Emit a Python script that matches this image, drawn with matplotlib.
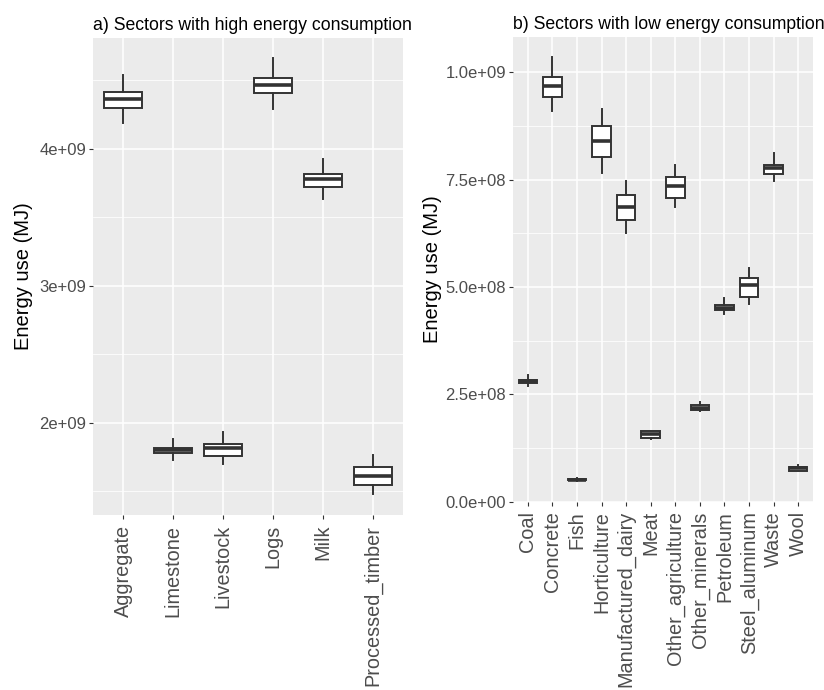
import matplotlib
matplotlib.use("Agg")
import matplotlib.pyplot as plt

plt.rcParams['font.family'] = ['Liberation Sans', 'DejaVu Sans']

# a) high energy sectors: box stats (MJ)
high_sectors = ["Aggregate", "Limestone", "Livestock", "Logs", "Milk", "Processed_timber"]
high_whislo = [4.190e9, 1.730e9, 1.701e9, 4.292e9, 3.635e9, 1.482e9]
high_q1 = [4.299e9, 1.781e9, 1.759e9, 4.409e9, 3.723e9, 1.547e9]
high_med = [4.365e9, 1.800e9, 1.818e9, 4.467e9, 3.781e9, 1.613e9]
high_q3 = [4.416e9, 1.818e9, 1.847e9, 4.518e9, 3.818e9, 1.679e9]
high_whishi = [4.540e9, 1.883e9, 1.934e9, 4.664e9, 3.927e9, 1.766e9]
high_ticks = [2e9, 3e9, 4e9]
high_ticklabels = ["2e+09", "3e+09", "4e+09"]
high_minor = [1.5e9, 2.5e9, 3.5e9, 4.5e9]

# b) low energy sectors
low_sectors = ["Coal", "Concrete", "Fish", "Horticulture", "Manufactured_dairy", "Meat",
               "Other_agriculture", "Other_minerals", "Petroleum", "Steel_aluminum",
               "Waste", "Wool"]
low_whislo = [2.68e8, 9.087e8, 4.70e7, 7.665e8, 6.267e8, 1.445e8, 6.87e8, 2.097e8, 4.38e8, 4.59e8, 7.456e8, 6.99e7]
low_q1 = [2.75e8, 9.415e8, 4.90e7, 8.015e8, 6.57e8, 1.468e8, 7.08e8, 2.14e8, 4.45e8, 4.776e8, 7.64e8, 7.22e7]
low_med = [2.796e8, 9.67e8, 5.05e7, 8.41e8, 6.85e8, 1.561e8, 7.36e8, 2.19e8, 4.497e8, 5.033e8, 7.76e8, 7.69e7]
low_q3 = [2.84e8, 9.90e8, 5.20e7, 8.76e8, 7.13e8, 1.631e8, 7.57e8, 2.237e8, 4.567e8, 5.196e8, 7.85e8, 8.15e7]
low_whishi = [2.936e8, 1.0345e9, 5.40e7, 9.156e8, 7.456e8, 1.654e8, 7.85e8, 2.307e8, 4.73e8, 5.43e8, 8.108e8, 8.62e7]
low_ticks = [0, 2.5e8, 5e8, 7.5e8, 1e9]
low_ticklabels = ["0.0e+00", "2.5e+08", "5.0e+08", "7.5e+08", "1.0e+09"]
low_minor = [1.25e8, 3.75e8, 6.25e8, 8.75e8]

W, H = 824, 690
fig = plt.figure(figsize=(W / 100, H / 100), dpi=100)


def px_axes(l, t, r, b):
    return fig.add_axes([l / W, 1 - b / H, (r - l) / W, (b - t) / H])


def draw_panel(ax, title, cats, lo, q1, med, q3, hi, ticks, ticklabels, minor, ylim, label_x):
    stats = [dict(whislo=a, q1=b, med=c, q3=d, whishi=e, fliers=[])
             for a, b, c, d, e in zip(lo, q1, med, q3, hi)]
    pos = list(range(1, len(cats) + 1))
    ax.set_facecolor("#EBEBEB")
    ax.bxp(stats, positions=pos, widths=0.75, showfliers=False, showcaps=False,
           patch_artist=True,
           boxprops=dict(facecolor="white", edgecolor="#333333", linewidth=1.4),
           whiskerprops=dict(color="#333333", linewidth=1.4),
           medianprops=dict(color="#333333", linewidth=2.6, solid_capstyle="butt"))
    for s in ax.spines.values():
        s.set_visible(False)
    ax.set_axisbelow(True)
    ax.set_xlim(0.4, len(cats) + 0.6)
    ax.set_ylim(*ylim)
    ax.set_yticks(ticks)
    ax.set_yticklabels(ticklabels)
    ax.set_yticks(minor, minor=True)
    ax.set_xticks(pos)
    ax.set_xticklabels(cats, rotation=90, va="top", ha="center")
    ax.grid(which="major", color="white", linewidth=1.1)
    ax.grid(which="minor", axis="y", color="white", linewidth=0.55)
    ax.tick_params(which="major", length=3, width=0.8, color="#333333",
                   labelcolor="#4D4D4D", pad=2)
    ax.tick_params(axis="x", labelsize=14.3, pad=4)
    ax.tick_params(axis="y", labelsize=12)
    ax.tick_params(which="minor", length=0)
    ax.set_ylabel("Energy use (MJ)", fontsize=14.5, color="black")
    ax.yaxis.set_label_coords(label_x, 0.5)
    ax.set_title(title, loc="left", fontsize=12.7, pad=6)


ax1 = px_axes(93, 38, 403, 515)
ax2 = px_axes(513, 37, 813, 501.5)

draw_panel(ax1, "a) Sectors with high energy consumption", high_sectors,
           high_whislo, high_q1, high_med, high_q3, high_whishi,
           high_ticks, high_ticklabels, high_minor, (1.328e9, 4.81e9), -0.194)
draw_panel(ax2, "b) Sectors with low energy consumption", low_sectors,
           low_whislo, low_q1, low_med, low_q3, low_whishi,
           low_ticks, low_ticklabels, low_minor, (0, 1.0822e9), -0.237)

fig.savefig("out.png", dpi=100)
